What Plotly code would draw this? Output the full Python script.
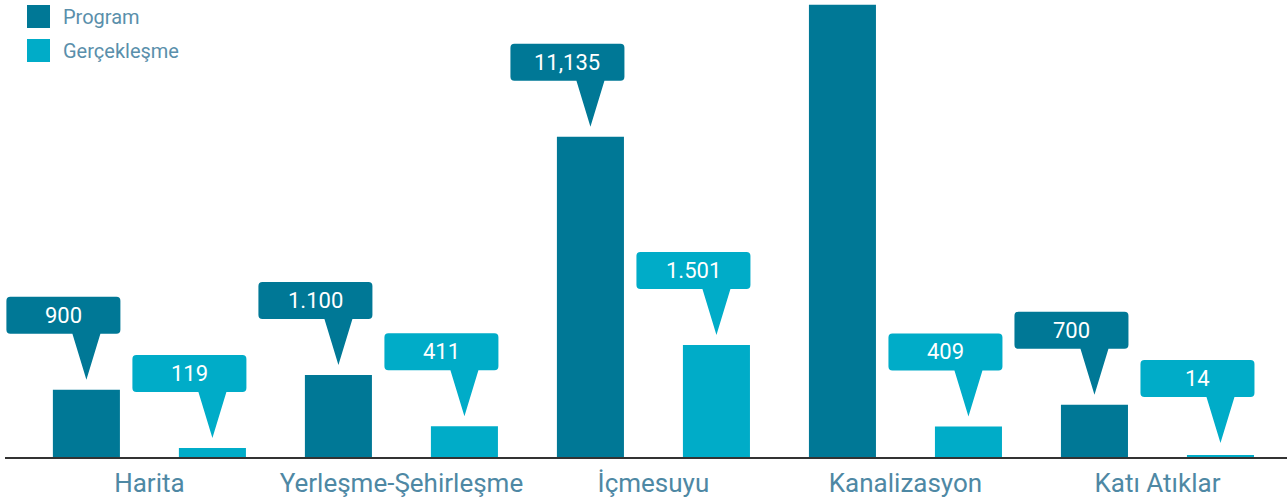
import plotly.graph_objects as go

categories = ["Harita", "Yerleşme-Şehirleşme", "İçmesuyu", "Kanalizasyon", "Katı Atıklar"]
program = [900, 1100, 4290, 6060, 700]
gerceklesme = [119, 411, 1501, 409, 14]
program_labels = ["900", "1.100", "11,135", "", "700"]
gerceklesme_labels = ["119", "411", "1.501", "409", "14"]
series_names = ["Program", "Gerçekleşme"]

C_PROG = "#007896"
C_GERC = "#00acc8"
TXT = "#4e88a4"

W, H = 1287, 502
M_L, M_R, M_T, M_B = 5, 0, 0, 45
Y_MAX = 6124
X_RANGE = [-0.573, 4.514]
plot_h = H - M_T - M_B
upp = Y_MAX / plot_h  # data units per pixel

fig = go.Figure()
fig.add_trace(go.Bar(x=categories, y=program, name=series_names[0],
                     marker_color=C_PROG, marker_line_width=0, showlegend=False,
                     hoverinfo="skip"))
fig.add_trace(go.Bar(x=categories, y=gerceklesme, name=series_names[1],
                     marker_color=C_GERC, marker_line_width=0, showlegend=False,
                     hoverinfo="skip"))

shapes = []
annotations = []

def callout_path():
    # relative pixel coords, tip at (0,0), y up
    return ("M -76,46 L -14,46 L 0,0 L 14,46 L 30,46 Q 34,46 34,50 L 34,79 "
            "Q 34,83 30,83 L -76,83 Q -80,83 -80,79 L -80,50 Q -80,46 -76,46 Z")

for vals, labels, off, col in [(program, program_labels, -0.25, C_PROG),
                               (gerceklesme, gerceklesme_labels, 0.25, C_GERC)]:
    for i, (v, lab) in enumerate(zip(vals, labels)):
        tip = max(v + 10 * upp, 14 * upp)
        xa = i + off
        shapes.append(dict(type="path", xref="x", yref="y",
                           xsizemode="pixel", ysizemode="pixel",
                           xanchor=xa, yanchor=tip, path=callout_path(),
                           fillcolor=col, line=dict(width=0), layer="above"))
        if lab:
            annotations.append(dict(x=xa, y=tip, xref="x", yref="y",
                                    xshift=-23, yshift=64.5, text=lab,
                                    showarrow=False, xanchor="center", yanchor="middle",
                                    font=dict(family="Roboto, sans-serif",
                                              size=22, color="white")))

# legend
legend_colors = [C_PROG, C_GERC]
for k, (name, col) in enumerate(zip(series_names, legend_colors)):
    top = 5 + 34 * k
    shapes.append(dict(type="rect", xref="paper", yref="paper",
                       xsizemode="pixel", ysizemode="pixel", xanchor=0, yanchor=1,
                       x0=22, x1=45, y0=-(top + 23), y1=-top,
                       fillcolor=col, line=dict(width=0)))
    annotations.append(dict(x=0, y=1, xref="paper", yref="paper",
                            xshift=56, yshift=-(top + 11.5), text=name,
                            showarrow=False, xanchor="left", yanchor="middle",
                            font=dict(family="Roboto, Liberation Sans, sans-serif", size=20, color="#5a8fab")))

fig.update_layout(
    width=W, height=H,
    margin=dict(l=M_L, r=M_R, t=M_T, b=M_B, pad=0),
    paper_bgcolor="white", plot_bgcolor="white",
    barmode="group", bargap=0, bargroupgap=0.468,
    shapes=shapes, annotations=annotations,
    showlegend=False, hovermode=False,
    xaxis=dict(type="category", range=X_RANGE, showgrid=False, zeroline=False,
               showline=True, linecolor="#333333", linewidth=1.5, ticks="",
               tickfont=dict(family="Roboto, Liberation Sans, sans-serif", size=26, color=TXT),
               ticklabelstandoff=2),
    yaxis=dict(range=[0, Y_MAX], visible=False, showgrid=False, zeroline=False),
)

fig.write_html("out.html", config={"displayModeBar": False},
               post_script="document.body.style.margin='0';document.body.style.overflow='hidden';")
